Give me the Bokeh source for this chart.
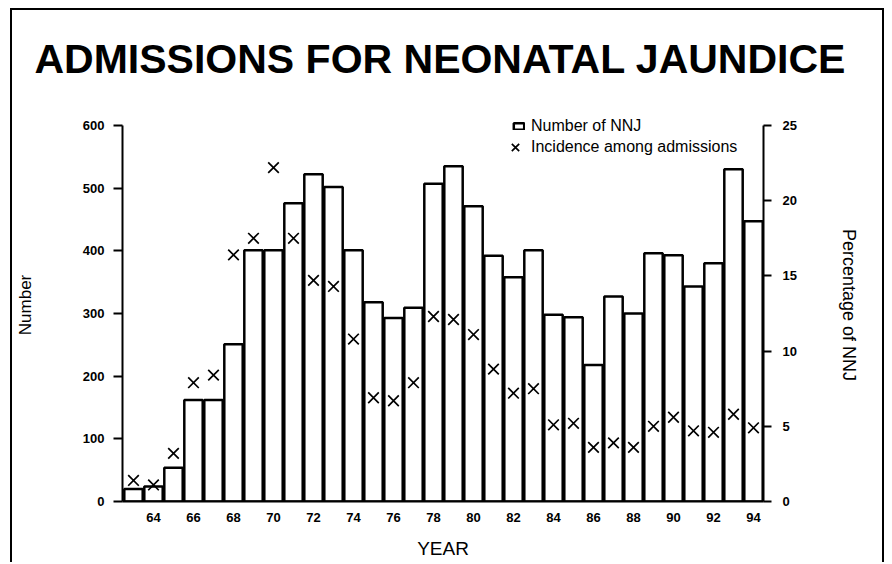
from bokeh.plotting import figure
from bokeh.models import Range1d, LinearAxis, FixedTicker, Legend, LegendItem, ColumnDataSource
from bokeh.embed import file_html
from bokeh.resources import INLINE

# ---- data ----
years = [63, 64, 65, 66, 67, 68, 69, 70, 71, 72, 73, 74, 75, 76, 77, 78,
         79, 80, 81, 82, 83, 84, 85, 86, 87, 88, 89, 90, 91, 92, 93, 94]
nnj_counts = [20, 24, 54, 162, 162, 251, 401, 401, 476, 522, 502, 401, 318, 293, 309, 507,
              535, 471, 392, 358, 401, 298, 294, 218, 327, 300, 396, 393, 343, 380, 530, 447]
incidence_pct = [1.4, 1.1, 3.2, 7.9, 8.4, 16.4, 17.5, 22.2, 17.5, 14.7, 14.3, 10.8, 6.9, 6.7, 7.9, 12.3,
                 12.1, 11.1, 8.8, 7.2, 7.5, 5.1, 5.2, 3.6, 3.9, 3.6, 5.0, 5.6, 4.7, 4.6, 5.8, 4.9]
year_ticks = [64, 66, 68, 70, 72, 74, 76, 78, 80, 82, 84, 86, 88, 90, 92, 94]
count_ticks = [0, 100, 200, 300, 400, 500, 600]
pct_ticks = [0, 5, 10, 15, 20, 25]

FONT = "Liberation Sans"

src = ColumnDataSource(data=dict(year=years, nnj=nnj_counts, pct=incidence_pct))

# frame a little taller than the 0-600 axis so the legend (above 600) is not clipped
p = figure(width=874, height=554, output_backend="svg", toolbar_location=None,
           x_range=Range1d(62.45, 94.5), y_range=Range1d(0, 627.1),
           min_border_left=109, min_border_right=123, min_border_top=98, min_border_bottom=63,
           title="ADMISSIONS FOR NEONATAL JAUNDICE")
p.styles = {"margin-left": "10px", "margin-top": "8px",
            "border-top": "2px solid black", "border-left": "2px solid black",
            "border-right": "2px solid black"}
p.extra_y_ranges = {"pct": Range1d(0, 26.13)}
p.outline_line_color = None
p.background_fill_color = "white"
p.border_fill_color = "white"
p.xgrid.grid_line_color = None
p.ygrid.grid_line_color = None

p.title.text_font = FONT
p.title.text_font_size = "41px"
p.title.text_font_style = "bold"
p.title.text_color = "black"
p.title.align = "left"
p.title.vertical_align = "top"
p.title.offset = -88
p.title.standoff = 49

# x axis
xa = p.xaxis[0]
xa.ticker = FixedTicker(ticks=year_ticks)
xa.major_tick_out = 0
xa.major_tick_in = 0
xa.minor_tick_out = 0
xa.minor_tick_in = 0
xa.axis_line_width = 2
xa.axis_line_color = "black"
xa.major_label_text_font = FONT
xa.major_label_text_font_size = "13px"
xa.major_label_text_font_style = "bold"
xa.major_label_text_color = "black"
xa.major_label_standoff = 11
xa.axis_label = "YEAR"
xa.axis_label_text_font = FONT
xa.axis_label_text_font_size = "19px"
xa.axis_label_text_font_style = "normal"
xa.axis_label_text_color = "black"
xa.axis_label_standoff = 13

# left axis
ya = p.yaxis[0]
ya.ticker = FixedTicker(ticks=count_ticks)
ya.bounds = (count_ticks[0], count_ticks[-1])
ya.major_tick_out = 9
ya.major_tick_in = 0
ya.minor_tick_out = 0
ya.minor_tick_in = 0
ya.axis_line_width = 2
ya.major_tick_line_width = 2
ya.major_label_text_font = FONT
ya.major_label_text_font_size = "13px"
ya.major_label_text_font_style = "bold"
ya.major_label_text_color = "black"
ya.major_label_standoff = 9
ya.axis_label = "Number"
ya.axis_label_text_font = FONT
ya.axis_label_text_font_size = "17px"
ya.axis_label_text_font_style = "normal"
ya.axis_label_text_color = "black"
ya.axis_label_standoff = 45

# right axis
ra = LinearAxis(y_range_name="pct", ticker=FixedTicker(ticks=pct_ticks),
                axis_label="Percentage of NNJ")
ra.bounds = (pct_ticks[0], pct_ticks[-1])
ra.major_tick_out = 8
ra.major_tick_in = 0
ra.minor_tick_out = 0
ra.minor_tick_in = 0
ra.axis_line_width = 2
ra.major_tick_line_width = 2
ra.major_label_text_font = FONT
ra.major_label_text_font_size = "13px"
ra.major_label_text_font_style = "bold"
ra.major_label_text_color = "black"
ra.major_label_standoff = 11
ra.axis_label_text_font = FONT
ra.axis_label_text_font_size = "18px"
ra.axis_label_text_font_style = "normal"
ra.axis_label_text_color = "black"
ra.axis_label_standoff = 39
p.add_layout(ra, "right")

bars = p.vbar(x="year", top="nnj", bottom=0, width=0.92, source=src,
              fill_color="white", line_color="black", line_width=2.5)
crosses = p.scatter(x="year", y="pct", source=src, y_range_name="pct", marker="x",
                    size=15, line_color="black", line_width=1.7)

leg1 = Legend(items=[LegendItem(label="Number of NNJ", renderers=[bars])],
              location=(390, 366), glyph_width=13, glyph_height=8, label_standoff=6,
              padding=0, margin=0, spacing=0, border_line_color=None,
              background_fill_alpha=0, label_height=18,
              label_text_font=FONT, label_text_font_size="16px", label_text_color="black")
leg2 = Legend(items=[LegendItem(label="Incidence among admissions", renderers=[crosses])],
              location=(380, 341), glyph_width=26, glyph_height=26, label_standoff=3,
              padding=0, margin=0, spacing=0, border_line_color=None,
              background_fill_alpha=0, label_height=26,
              label_text_font=FONT, label_text_font_size="16px", label_text_color="black")
p.add_layout(leg1)
p.add_layout(leg2)

open("out.html", "w").write(file_html(p, INLINE))
